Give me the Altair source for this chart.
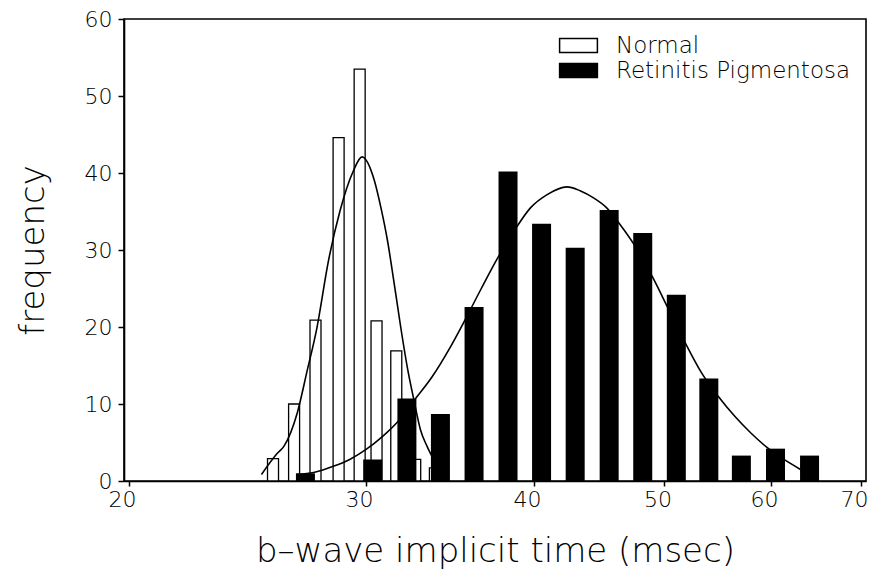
import altair as alt
import pandas as pd

# ---- data ----
groups = ["Normal", "Retinitis Pigmentosa"]

normal_x = [25.59, 26.53, 27.52, 28.63, 29.68, 30.55, 31.60, 32.64, 33.76]
normal_freq = [2.9, 10.0, 20.9, 44.6, 53.5, 20.8, 16.9, 2.8, 1.7]

rp_x = [27.05, 30.35, 32.18, 34.08, 36.10, 38.26, 40.52, 42.92, 45.49,
        48.18, 51.03, 53.95, 57.04, 60.47, 64.10]
rp_freq = [1.0, 2.8, 10.7, 8.7, 22.6, 40.2, 33.4, 30.3, 35.2,
           32.2, 24.2, 13.3, 3.3, 4.2, 3.3]

normal_fit_x = [25.09, 25.78, 26.07, 26.67, 27.12, 27.58, 28.13, 28.70, 29.35,
                29.80, 30.44, 30.78, 31.13, 31.49, 31.84, 32.20, 32.57, 32.93,
                33.31, 33.69]
normal_fit_y = [0.85, 3.6, 4.5, 8.8, 14.2, 19.8, 28.5, 35.1, 40.2,
                42.1, 39.0, 35.5, 31.2, 25.6, 20.0, 14.8, 10.5, 6.7,
                4.5, 2.8]

rp_fit_x = [26.67, 27.43, 28.37, 29.18, 30.01, 30.87, 31.75, 32.66, 33.59,
            34.56, 35.54, 36.55, 37.60, 38.67, 39.77, 40.91, 42.32, 43.28,
            44.26, 45.28, 46.30, 47.63, 48.99, 50.39, 51.83, 53.30, 54.82,
            56.40, 58.00, 59.66, 61.36, 63.11]
rp_fit_y = [0.85, 1.1, 1.9, 2.8, 4.1, 5.8, 7.9, 10.7, 13.5,
            17.0, 20.9, 25.0, 29.0, 32.5, 35.5, 37.2, 38.2, 37.7,
            36.8, 35.5, 33.4, 30.3, 26.5, 22.2, 17.9, 14.0, 11.0,
            8.4, 6.2, 4.3, 2.8, 1.5]

x_ticks = [20, 30, 40, 50, 60, 70]
y_ticks = [0, 10, 20, 30, 40, 50, 60]

# ---- tables ----
normal_df = pd.DataFrame({"t": normal_x, "f": normal_freq, "group": groups[0]})
rp_df = pd.DataFrame({"t": rp_x, "f": rp_freq, "group": groups[1]})
fit_df = pd.concat([
    pd.DataFrame({"t": normal_fit_x, "f": normal_fit_y, "curve": "normal"}),
    pd.DataFrame({"t": rp_fit_x, "f": rp_fit_y, "curve": "rp"}),
])

FONT = "DejaVu Sans"
WEIGHT = 300

x_enc = alt.X(
    "t:Q",
    scale=alt.Scale(type="log", domain=[20, 70], nice=False),
    axis=alt.Axis(values=x_ticks, format="d", grid=False, tickSize=5,
                  labelPadding=3, labelOffset=-7, labelFlush=False,
                  title="b–wave implicit time (msec)", titlePadding=24),
)
y_enc = alt.Y(
    "f:Q",
    scale=alt.Scale(domain=[0, 60], nice=False),
    axis=alt.Axis(values=y_ticks, grid=False, tickSize=6, labelPadding=6,
                  title="frequency", titlePadding=34),
)
color_enc = alt.Color(
    "group:N",
    scale=alt.Scale(domain=groups, range=["white", "black"]),
    legend=alt.Legend(
        title=None, orient="none", legendX=443, legendY=15,
        symbolType="M-2.7,-1H2.7V1H-2.7Z", symbolSize=196,
        symbolStrokeColor="black", symbolStrokeWidth=1.5, symbolOpacity=1,
        labelFont=FONT, labelFontSize=23, labelFontWeight=WEIGHT,
        labelColor="black", labelLimit=0,
        labelOffset=26, rowPadding=1, padding=0,
    ),
)

normal_bars = alt.Chart(normal_df).mark_bar(
    size=11, stroke="black", strokeWidth=1.3, opacity=1
).encode(x=x_enc, y=y_enc, color=color_enc)

rp_bars = alt.Chart(rp_df).mark_bar(size=19, opacity=1).encode(
    x=x_enc, y=y_enc, color=color_enc
)

curves = alt.Chart(fit_df).mark_line(
    color="black", strokeWidth=1.6, interpolate="monotone"
).encode(x=x_enc, y=y_enc, detail="curve:N")

chart = alt.layer(normal_bars, rp_bars, curves).properties(
    width=742,
    height=462,
    autosize=alt.AutoSizeParams(type="none"),
    padding={"left": 116, "top": 11, "right": 10, "bottom": 90},
).configure_view(
    stroke="black", strokeWidth=1.6
).configure_axis(
    domainColor="black", domainWidth=1.6, tickColor="black", tickWidth=1.5,
    labelFont=FONT, labelFontSize=22, labelFontWeight=WEIGHT, labelColor="black",
    titleFont=FONT, titleFontSize=34, titleFontWeight=WEIGHT, titleColor="black",
)

chart.save("out.html", embed_options={"renderer": "svg", "actions": False})
